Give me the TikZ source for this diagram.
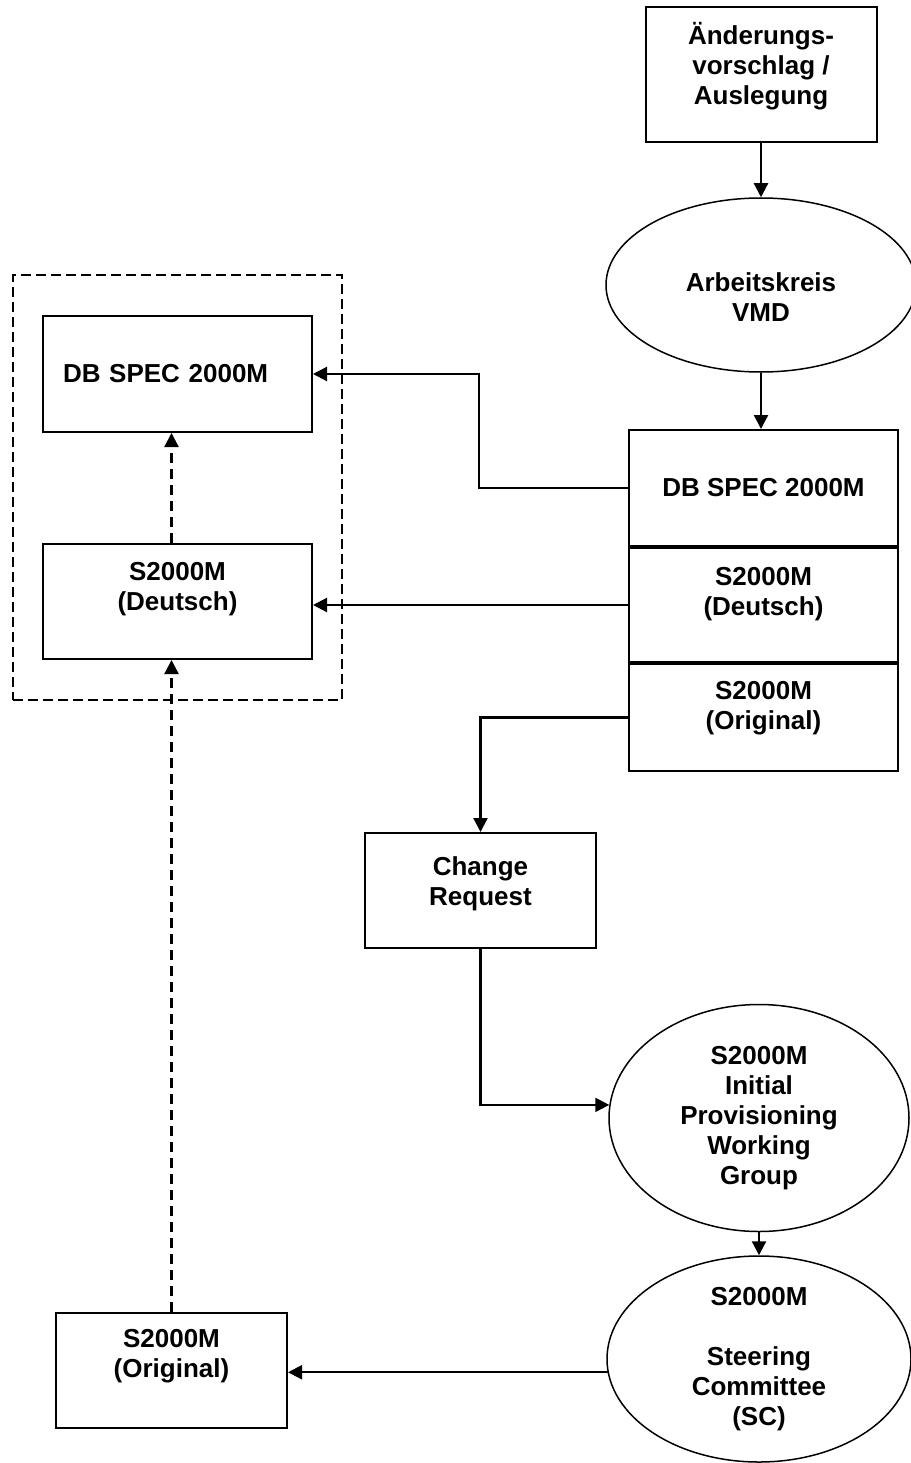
\documentclass[tikz,border=0pt]{standalone}
\usepackage{fontspec}
\setmainfont{Liberation Sans}
\usetikzlibrary{positioning, arrows.meta, shapes.geometric, fit}

\begin{document}
\begin{tikzpicture}[x=1pt, y=-1pt,
    every node/.style={font=\bfseries\fontsize{26}{30}\selectfont, align=center, inner sep=0pt},
    box/.style={draw, line width=2pt, minimum width=231, minimum height=115},
    oval/.style={draw, ellipse, line width=1.5pt},
    lift/.style={text depth=#1},
    drop/.style={text height=#1},
    arr/.style={-{Triangle[width=14pt,length=14pt]}, line width=2.2pt},
    darr/.style={arr, dash pattern=on 10pt off 6pt}]
    \useasboundingbox (0,0) rectangle (910,1463);

    % Vorschlag und Arbeitskreis
    \node[box, minimum height=135, lift=21.5pt] (chg) at (761,74.5) {Änderungs-\\vorschlag /\\Auslegung};
    \node[oval, minimum width=310, minimum height=174, drop=73pt] (akv) at (761,285) {Arbeitskreis\\VMD};

    % Datenbank rechts
    \node[box, minimum width=269, minimum height=116] (rdb) at (763.5,488) {DB SPEC 2000M};
    \node[box, minimum width=269, minimum height=114, lift=27.5pt, below=0pt of rdb] (rde) {S2000M\\(Deutsch)};
    \node[box, minimum width=269, minimum height=107, lift=23.5pt, below=0pt of rde] (ror) {S2000M\\(Original)};

    % Datenbank links
    \node[box, minimum width=269, minimum height=116, text width=229pt, align=left] (ldb) at (177.5,374) {DB SPEC 2000M};
    \node[box, minimum width=269, minimum height=115, lift=31pt] (lde) at (177.5,601.5) {S2000M\\(Deutsch)};
    \node[draw, line width=2pt, dash pattern=on 10pt off 5pt, fit=(ldb)(lde), inner xsep=29pt, inner ysep=40pt] (grp) {};

    % Change Request und Gremien
    \node[box, lift=19.5pt] (crq) at (480.5,890.5) {Change\\Request};
    \node[oval, minimum width=300, minimum height=227] (ipw) at (759,1118) {S2000M\\Initial\\Provisioning\\Working\\Group};
    \node[oval, minimum width=304, minimum height=206] (scm) at (759,1359) {S2000M\\[30pt]Steering\\Committee\\(SC)};
    \node[box, lift=33.5pt] (lor) at (171.5,1370.5) {S2000M\\(Original)};

    % Verbindungen
    \draw[arr] (chg.south) -- (akv.north);
    \draw[arr] (akv.south) -- (akv.south |- rdb.north);
    \draw[arr] (rdb.west) -- ++(-149,0) |- (ldb.east);
    \draw[arr] (rde.west) -- (rde.west -| ldb.east);
    \draw[arr] (ror.west) -| (crq.north);
    \draw[arr] (crq.south) |- (ipw.175);
    \draw[arr] (ipw.south) -- (scm.north);
    \draw[arr] (scm.185) -- (scm.185 -| lor.east);
    \draw[darr] (lor.north) -- (lor.north |- lde.south);
    \draw[darr] (lde.north -| lor.north) -- (ldb.south -| lor.north);
\end{tikzpicture}
\end{document}
